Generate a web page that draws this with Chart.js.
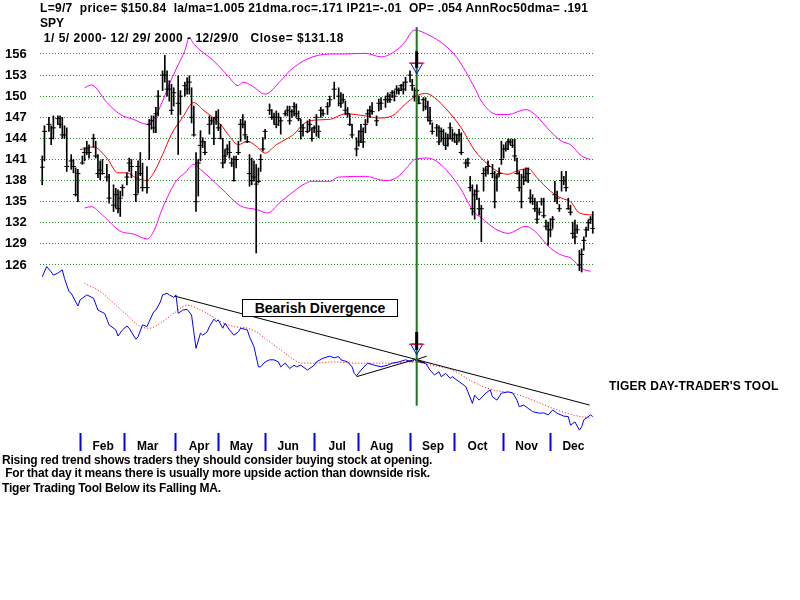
<!DOCTYPE html>
<html>
<head>
<meta charset="utf-8">
<script src="https://cdn.jsdelivr.net/npm/chart.js@4.4.0/dist/chart.umd.min.js"></script>
<style>
body { margin: 0; background: #fff; }
#wrap { position: relative; width: 800px; height: 600px; font-family: "Liberation Sans", Arial, sans-serif; font-weight: bold; font-size: 12px; color: #000; }
canvas { position: absolute; left: 0; top: 0; }
.txt { position: absolute; white-space: pre; line-height: 14px; }
#bear { position: absolute; left: 242px; top: 299px; width: 154px; height: 16px; border: 1px solid #000; background: #fff; font-size: 14px; line-height: 16px; text-align: center; }
</style>
</head>
<body>
<div id="wrap">
<canvas id="myChart" width="800" height="600"></canvas>
<div class="txt" style="left:40px;top:1px;letter-spacing:0.3px">L=9/7  price= $150.84  la/ma=1.005 21dma.roc=.171 IP21=-.01  OP= .054 AnnRoc50dma= .191</div>
<div class="txt" style="left:40px;top:16px">SPY</div>
<div class="txt" style="left:40px;top:31px;letter-spacing:0.5px"> 1/ 5/ 2000- 12/ 29/ 2000 - 12/29/0   Close= $131.18</div>
<div id="bear">Bearish Divergence</div>
<div class="txt" style="left:609px;top:379px;letter-spacing:0.2px">TIGER DAY-TRADER'S TOOL</div>
<div class="txt" style="left:2px;top:453px;letter-spacing:-0.2px">Rising red trend shows traders they should consider buying stock at opening.</div>
<div class="txt" style="left:2px;top:466px;letter-spacing:-0.2px"> For that day it means there is usually more upside action than downside risk.</div>
<div class="txt" style="left:2px;top:481px;letter-spacing:-0.2px">Tiger Trading Tool Below its Falling MA.</div>
</div>
<script>
// trading day index, 0 = Jan 5 2000
const monthStart = [18, 38, 61, 80, 101, 123, 143, 166, 186, 208, 229]
const monthNames = ['Feb', 'Mar', 'Apr', 'May', 'Jun', 'Jul', 'Aug', 'Sep', 'Oct', 'Nov', 'Dec']
const priceTicks = [126, 129, 132, 135, 138, 141, 144, 147, 150, 153, 156]

const barDay = [1,2,4,5,6,8,9,10,11,12,
  14,15,16,17,19,20,21,22,24,25,
  26,27,28,30,31,33,34,35,36,37,
  39,40,41,43,44,45,46,48,49,50,
  51,52,53,55,56,57,58,59,60,62,
  63,65,66,67,68,69,70,71,72,73,
  74,76,77,78,79,80,81,82,83,84,
  85,86,87,88,89,90,91,92,93,94,
  95,96,97,98,99,100,101,103,104,105,
  106,107,108,110,111,112,113,114,115,116,
  117,118,120,121,122,123,124,125,126,127,
  129,130,132,134,135,136,137,138,139,140,
  142,143,144,145,146,147,148,149,151,152,
  153,155,156,157,158,159,160,161,162,163,
  164,166,167,168,169,170,172,173,174,175,
  176,178,179,180,181,182,183,184,185,186,
  187,188,189,191,192,193,194,195,196,197,
  198,199,200,201,203,204,205,206,207,208,
  209,210,211,212,213,214,215,216,217,218,
  219,220,221,222,223,224,225,226,227,228,
  229,230,231,232,233,234,235,236,237,238,
  239,240,241,242,243,244,245,246,247,248]
const barHigh = [141.5,145.8,147.0,145.8,147.2,147.2,147.2,147.0,145.8,145.5,
  141.7,141.0,139.8,139.6,141.5,142.7,143.6,143.1,144.6,143.6,
  141.7,140.8,141.0,140.3,138.9,137.4,136.9,136.7,136.5,137.4,
  139.1,141.2,141.0,139.3,140.8,142.0,140.5,140.0,146.7,147.2,
  147.2,148.4,150.8,153.6,155.8,153.6,152.2,151.7,151.2,152.9,
  150.8,152.0,152.6,152.9,151.2,148.6,142.0,141.0,145.1,144.1,
  143.6,147.2,147.0,147.0,147.9,148.1,146.0,143.9,142.4,143.1,
  143.6,141.2,141.5,141.5,143.6,146.7,147.4,146.5,144.3,141.7,
  141.2,140.8,140.3,139.8,141.7,144.1,145.3,148.9,148.1,147.6,
  147.9,147.6,147.0,147.9,148.6,148.6,148.1,149.1,148.9,147.9,
  146.7,146.0,146.5,146.7,145.5,145.8,147.4,145.8,148.4,148.1,
  149.1,150.0,152.0,151.2,150.5,150.3,149.3,148.4,147.4,146.0,
  144.1,145.1,146.0,145.5,146.7,148.1,148.6,149.1,147.2,149.6,
  149.8,150.0,150.5,150.3,150.8,150.8,151.5,151.2,151.7,152.0,
  152.7,153.6,152.4,151.2,151.0,150.0,149.8,149.8,149.3,148.4,
  146.2,146.0,145.8,145.5,145.3,144.8,144.6,146.2,145.3,144.8,
  144.6,145.3,144.8,141.0,141.2,138.6,137.4,136.7,137.4,135.5,
  134.5,139.8,140.0,140.8,140.3,139.3,138.9,139.8,143.6,143.1,
  143.4,143.9,143.9,143.9,143.9,141.2,139.3,138.9,139.6,139.8,
  139.8,136.7,136.0,135.5,135.0,134.1,135.5,135.5,132.4,132.1,
  132.6,132.9,137.9,136.5,134.6,139.3,138.6,139.3,135.5,134.5,
  132.1,132.4,131.7,128.1,128.3,130.0,131.4,132.4,132.9,133.6]
const barLow = [137.4,140.8,145.0,143.1,143.9,146.0,145.5,144.0,144.0,139.3,
  139.6,139.1,135.8,135.0,140.3,140.8,141.7,141.2,142.7,141.2,
  138.4,138.1,138.9,137.9,134.8,133.6,134.1,133.4,132.9,135.8,
  137.4,139.3,138.4,135.0,136.2,138.7,136.5,136.2,141.0,145.3,
  144.8,144.8,147.2,150.8,152.0,150.0,149.3,147.4,148.6,141.7,
  147.4,150.0,150.3,150.3,146.2,144.3,133.6,135.8,140.8,142.7,
  141.7,144.6,146.0,143.1,146.0,145.1,143.9,139.8,140.5,141.7,
  141.2,140.0,137.9,139.8,141.7,143.6,145.5,143.9,143.4,137.2,
  137.4,137.9,127.7,137.7,139.3,142.2,143.9,147.4,146.7,146.0,
  145.5,145.8,144.6,147.2,147.2,146.0,147.0,147.2,147.0,146.5,
  143.9,144.3,144.8,145.1,143.6,144.8,144.3,144.1,147.0,147.2,
  147.4,148.6,149.6,148.6,148.4,149.1,147.4,147.0,145.8,144.1,
  141.5,142.9,143.4,142.7,144.8,146.2,147.0,147.4,145.8,147.9,
  148.1,148.4,149.1,149.1,149.8,149.3,150.3,150.3,150.8,150.3,
  150.8,152.0,150.8,149.3,149.3,148.9,147.9,148.1,146.5,146.0,
  144.6,144.3,143.1,143.6,143.1,142.4,142.9,143.9,143.6,143.4,
  143.1,143.6,141.7,139.8,140.0,136.5,133.1,132.5,135.3,133.1,
  129.3,136.5,138.6,138.9,138.4,134.1,136.5,138.6,140.3,141.2,
  142.2,142.4,143.1,142.7,140.8,138.9,136.5,134.1,137.4,137.9,
  137.7,134.8,134.6,133.6,131.9,133.1,134.5,132.7,131.1,128.8,
  130.0,131.2,135.0,134.7,133.6,136.5,137.4,136.5,133.9,133.1,
  129.8,129.0,130.5,125.2,125.0,128.1,130.0,130.9,131.9,130.5]
const barClose = [139.9,145.0,146.0,144.0,145.5,146.8,146.0,144.5,144.5,140.0,
  140.8,140.0,136.0,139.0,140.5,142.0,142.5,142.0,144.0,141.5,
  139.0,139.5,139.0,138.5,135.5,134.5,136.0,134.0,135.5,137.0,
  138.5,140.5,140.0,136.0,140.0,139.0,137.0,137.0,146.0,146.5,
  145.5,147.5,150.0,153.0,153.0,151.0,151.0,148.0,150.5,149.0,
  150.0,151.5,151.0,152.0,147.0,144.5,135.0,140.5,143.0,143.5,
  142.0,146.0,146.5,144.0,147.0,145.5,144.0,140.5,141.5,142.5,
  142.0,140.5,138.0,141.0,142.0,146.0,146.0,144.5,143.5,139.0,
  138.0,138.5,137.5,137.9,141.0,142.5,145.0,148.0,147.0,147.0,
  146.0,147.0,146.5,147.5,148.0,146.5,147.8,148.5,147.5,146.8,
  145.0,145.5,145.0,146.0,144.0,145.5,147.0,145.0,148.0,147.5,
  148.5,149.5,151.0,150.0,149.0,149.5,148.0,147.5,146.0,144.5,
  142.5,143.5,145.0,143.5,146.0,147.5,148.0,147.8,146.5,149.0,
  149.0,149.5,150.0,149.5,150.5,150.0,151.0,150.8,151.5,151.0,
  152.0,153.0,151.5,150.0,150.8,149.0,149.5,148.5,147.0,146.5,
  145.0,145.5,143.5,145.0,144.0,143.0,144.0,145.5,144.0,144.5,
  143.5,144.5,142.0,140.5,140.5,137.0,134.0,136.0,136.5,134.0,
  134.0,139.0,139.5,140.0,139.0,135.0,138.5,139.0,141.0,142.5,
  142.5,143.5,143.5,143.0,141.5,139.0,137.0,135.0,138.5,138.0,
  139.0,135.5,135.0,134.0,132.5,133.5,135.0,133.0,131.5,131.0,
  131.0,132.5,136.0,135.5,134.0,138.0,138.0,137.0,134.0,133.5,
  130.5,130.0,131.0,126.0,127.5,129.5,131.0,132.0,132.5,131.2]

const maDay = [18,24,30,35,39,43,48,51,55,59,64,69,73,81,85,89,93,97,101,106,111,114,118,123,130,137,146,152,158,164,168,173,177,183,189,195,201,206,210,214,219,223,229,234,238,242,248]
const maVal = [142.4,142.8,141.2,139.1,139.1,138.4,138.0,139.1,141.7,144.6,147.0,149.1,148.1,146.0,144.3,143.1,143.6,142.9,141.9,143.1,144.0,144.6,146.0,146.6,146.7,147.5,147.2,146.9,147.2,148.9,149.9,150.4,149.8,147.9,145.5,142.3,140.3,139.2,138.9,139.4,139.7,138.4,136.5,135.5,135.0,133.4,133.1]

const upperDay = [20,23,30,36,42,48,51,55,58,61,65,67,69,78,84,89,91,95,101,108,112,120,130,137,146,153,156,163,168,175,181,187,195,198,205,210,218,222,229,234,238,243,247]
const upperVal = [151.2,151.6,149.1,147.4,146.7,146.0,146.7,149.3,151.7,153.8,156.5,158.3,157.4,155.0,153.0,151.5,152.0,151.5,150.3,152.2,153.6,155.3,156.0,156.0,156.1,155.6,155.8,157.4,159.4,158.6,157.4,155.5,151.2,149.3,147.4,147.4,148.1,147.4,145.0,143.6,143.1,141.5,141.0]

const lowerDay = [20,23,28,36,42,48,51,55,61,65,69,72,81,90,97,102,108,112,118,122,130,134,146,155,160,165,168,174,179,188,195,198,204,210,218,222,229,234,238,243,247]
const lowerVal = [134.1,134.3,133.1,130.8,130.4,129.7,130.8,134.1,137.9,139.1,140.3,139.6,137.0,134.4,133.9,133.4,135.0,136.0,137.4,137.9,137.9,138.5,138.6,138.0,138.4,140.0,141.0,141.2,140.5,137.2,133.4,132.7,131.2,130.5,131.5,130.8,128.4,127.4,127.0,125.5,125.1]

// Tiger day-trader's tool (lower panel, own scale)
const toolDay = [1,3,5,6,8,10,11,13,14,17,18,21,24,26,29,31,34,35,37,39,40,43,44,46,48,49,51,52,54,55,57,58,60,61,62,64,66,68,69,70,72,73,75,76,78,79,80,82,83,85,87,89,90,93,94,96,98,99,101,103,105,107,108,110,112,114,115,117,120,123,124,127,130,132,134,135,138,140,141,142,144,147,150,153,156,158,161,164,167,168,170,173,175,177,179,180,182,184,185,188,191,192,194,195,197,200,202,203,205,207,208,210,212,214,215,217,219,221,224,226,228,230,232,235,237,238,240,242,243,244,247,248]
const toolVal = [38.0,40.5,39.2,38.4,38.9,39.7,37.6,34.4,34.0,30.9,32.4,33.6,32.8,29.9,29.1,26.3,25.1,23.6,25.1,26.0,25.5,22.8,23.4,26.3,25.9,27.1,29.5,29.9,31.9,33.6,34.0,33.6,33.0,33.6,29.1,29.9,30.1,28.7,24.6,20.6,24.3,23.8,24.6,25.9,27.7,27.1,27.5,25.5,26.7,25.1,23.8,24.6,25.5,25.1,23.4,21.0,16.1,16.1,17.3,17.8,17.8,17.3,16.1,17.0,15.7,16.5,16.1,16.5,15.3,16.5,17.3,18.2,18.7,18.3,18.6,17.8,17.3,16.1,14.5,13.9,15.3,17.0,16.5,16.1,16.5,17.0,17.3,17.8,17.3,17.8,17.3,17.0,15.3,14.1,14.9,13.7,14.5,13.3,13.7,12.5,11.3,10.0,7.2,9.2,8.0,9.7,10.5,8.8,8.0,9.7,9.8,10.0,9.8,8.0,6.4,6.8,6.0,5.2,4.8,4.9,4.4,5.6,4.8,4.1,4.0,1.9,2.7,0.7,1.5,3.2,4.4,4.0]
const toolMaDay = [20,27,33,39,45,49,54,60,66,69,75,81,87,93,97,102,108,114,117,123,132,141,150,158,167,176,185,194,203,212,221,230,239,247]
const toolMaVal = [36.4,34.4,31.6,28.7,25.9,25.5,26.7,29.1,31.1,30.7,29.1,27.1,25.9,25.5,24.6,22.6,20.2,17.8,17.0,17.0,17.3,17.0,17.0,17.0,17.3,16.5,15.3,12.5,10.5,9.7,8.0,6.0,4.4,3.6]

// signal day L=9/7
const signalDay = 169

function pts(days, vals) {
    return days.map((d, i) => ({ x: d, y: vals[i] }))
}

const ctx = document.getElementById('myChart');
Chart.defaults.font.family = '"Liberation Sans", Arial, sans-serif'

const smooth = { pointRadius: 0, borderWidth: 1, cubicInterpolationMode: 'monotone', fill: false }

new Chart(ctx, {
    type: 'line',
    data: {
        datasets: [
            // top arrow
            { data: [{ x: signalDay, y: 156.4 }, { x: signalDay, y: 154.0 }], borderColor: '#000', borderWidth: 3, pointRadius: 0, order: 0 },
            { data: [{ x: signalDay - 3.5, y: 154.7 }, { x: signalDay + 3.5, y: 154.7 }], borderColor: '#ff0000', borderWidth: 1, pointRadius: 0, order: 1 },
            { data: [{ x: signalDay, y: 154.2 }], showLine: false, pointStyle: 'triangle', rotation: 180, pointRadius: 7, pointBorderColor: '#0000ff', pointBackgroundColor: 'rgba(0,0,0,0)', pointBorderWidth: 1, order: 1 },
            // bottom arrow
            { data: [{ x: signalDay, y: 24.6 }, { x: signalDay, y: 20.2 }], yAxisID: 'y2', borderColor: '#000', borderWidth: 3, pointRadius: 0, order: 0 },
            { data: [{ x: signalDay - 3.5, y: 21.6 }, { x: signalDay + 3.5, y: 21.6 }], yAxisID: 'y2', borderColor: '#ff0000', borderWidth: 1, pointRadius: 0, order: 1 },
            { data: [{ x: signalDay, y: 20.8 }], yAxisID: 'y2', showLine: false, pointStyle: 'triangle', rotation: 180, pointRadius: 7, pointBorderColor: '#0000ff', pointBackgroundColor: 'rgba(0,0,0,0)', pointBorderWidth: 1, order: 1 },
            // signal day line
            { data: [{ x: signalDay, y: 98.8 }, { x: signalDay, y: 6.6 }], yAxisID: 'y2', borderColor: '#1a7a1a', borderWidth: 2, pointRadius: 0, order: 2 },
            // trend lines on the tool
            { data: [{ x: 60.5, y: 33.3 }, { x: 246.6, y: 6.8 }], yAxisID: 'y2', borderColor: '#000', borderWidth: 1, pointRadius: 0, order: 3 },
            { data: [{ x: 142, y: 13.7 }, { x: 168.2, y: 17.9 }], yAxisID: 'y2', borderColor: '#000', borderWidth: 1, pointRadius: 0, order: 3 },
            { data: [{ x: 173.5, y: 18.7 }, { x: 168.6, y: 17.8 }, { x: 172.6, y: 17.0 }], yAxisID: 'y2', borderColor: '#000', borderWidth: 1, pointRadius: 0, order: 3 },
            // tool and its MA
            { data: pts(toolDay, toolVal), yAxisID: 'y2', borderColor: '#0000ff', borderWidth: 1, pointRadius: 0, tension: 0, order: 4 },
            { data: pts(toolMaDay, toolMaVal), yAxisID: 'y2', ...smooth, borderColor: '#ff0000', borderDash: [1, 2], order: 5 },
            // price bars
            { data: pts(barDay, barClose), showLine: false, pointStyle: 'line', pointRadius: 2.5, pointBorderWidth: 1, pointBorderColor: '#000', order: 6 },
            { type: 'bar', data: barDay.map((d, i) => ({ x: d, y: [barLow[i], barHigh[i]] })), backgroundColor: '#000', borderWidth: 0, barThickness: 1, grouped: false, order: 6 },
            // moving average and bands
            { data: pts(maDay, maVal), ...smooth, borderColor: '#ff0000', order: 7 },
            { data: pts(upperDay, upperVal), ...smooth, borderColor: '#ff00ff', order: 7 },
            { data: pts(lowerDay, lowerVal), ...smooth, borderColor: '#ff00ff', order: 7 }
        ]
    },
    options: {
        responsive: false,
        animation: false,
        events: [],
        layout: { padding: { left: 5, right: 205, top: 22, bottom: 147 } },
        plugins: { legend: { display: false }, tooltip: { enabled: false } },
        scales: {
            x: {
                type: 'linear', min: 0, max: 249, offset: false,
                afterBuildTicks: s => { s.ticks = monthStart.map(v => ({ value: v })) },
                afterFit: s => { s.height = 20 },
                grid: { drawOnChartArea: false, drawTicks: true, tickLength: 18, tickColor: '#0000ff', tickWidth: 2, offset: false },
                border: { display: false },
                ticks: {
                    autoSkip: false, maxRotation: 0, padding: -12, labelOffset: 23, color: '#000',
                    font: { size: 12, weight: 'bold' },
                    callback: (v, i) => monthNames[i]
                }
            },
            y: {
                type: 'linear', position: 'left', min: 102.11, max: 160.55,
                afterBuildTicks: s => { s.ticks = priceTicks.map(v => ({ value: v })) },
                afterFit: s => { s.width = 35 },
                grid: { color: '#1f8f1f', lineWidth: 1, drawTicks: false },
                border: { display: false, dash: [1, 2] },
                ticks: { crossAlign: 'far', padding: 0, color: '#000', font: { size: 13, weight: 'bold' } }
            },
            y2: { type: 'linear', display: false, min: 0, max: 100 }
        }
    }
});
</script>
</body>
</html>
